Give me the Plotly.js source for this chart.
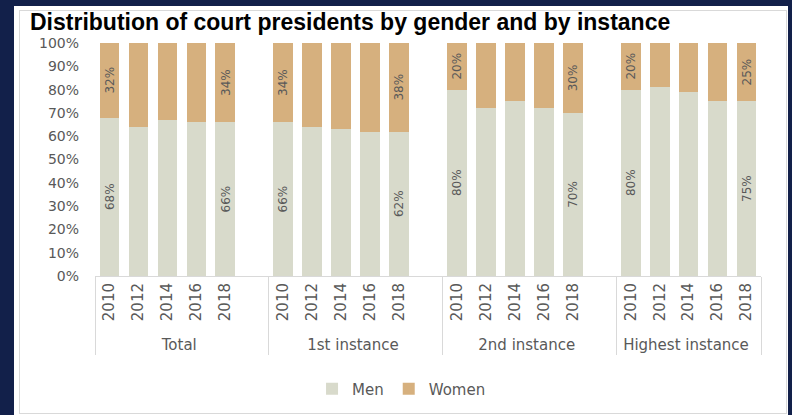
<!DOCTYPE html>
<html>
<head>
<meta charset="utf-8">
<script src="https://cdn.plot.ly/plotly-3.0.1.min.js"></script>
<style>
  html, body { margin:0; padding:0; width:792px; height:415px; overflow:hidden; background:#12204a; }
  #panel { position:absolute; left:14px; top:6px; width:774px; height:409px; background:#ffffff; }
  #frame { position:absolute; left:19px; top:10px; width:766px; height:402px; border:1px solid #d9d9d9; }
  #chart { position:absolute; left:0; top:0; width:792px; height:415px; }
</style>
</head>
<body>
<div id="panel"></div>
<div id="frame"></div>
<div id="chart"></div>
<script>
const groups = ['Total', '1st instance', '2nd instance', 'Highest instance'];
const years = ['2010', '2012', '2014', '2016', '2018'];
const menValues = [
  [68, 64, 67, 66, 66],
  [66, 64, 63, 62, 62],
  [80, 72, 75, 72, 70],
  [80, 81, 79, 75, 75]
];
const womenValues = [
  [32, 36, 33, 34, 34],
  [34, 36, 37, 38, 38],
  [20, 28, 25, 28, 30],
  [20, 19, 21, 25, 25]
];
const labelYears = ['2010', '2018'];

const xGroup = [], xYear = [], men = [], women = [], menText = [], womenText = [];
groups.forEach((g, gi) => {
  years.forEach((yr, yi) => {
    xGroup.push(g); xYear.push(yr);
    men.push(menValues[gi][yi]); women.push(womenValues[gi][yi]);
    const show = labelYears.includes(yr);
    menText.push(show ? menValues[gi][yi] + '%' : '');
    womenText.push(show ? womenValues[gi][yi] + '%' : '');
  });
  if (gi < groups.length - 1) {
    // empty spacer slot at the end of each group
    xGroup.push(g); xYear.push(' '.repeat(gi + 1));
    men.push(null); women.push(null); menText.push(''); womenText.push('');
  }
});

const font = 'DejaVu Sans, sans-serif';
const common = {
  type: 'bar',
  x: [xGroup, xYear],
  textposition: 'inside',
  insidetextanchor: 'middle',
  textangle: -90,
  textfont: { family: font, size: 14, color: '#595959' },
  hoverinfo: 'skip',
  width: 0.68
};
const data = [
  Object.assign({}, common, { name: 'Men', y: men, text: menText, marker: { color: '#d8dacb' } }),
  Object.assign({}, common, { name: 'Women', y: women, text: womenText, marker: { color: '#d6b07e' } })
];

const layout = {
  width: 792, height: 415,
  paper_bgcolor: 'rgba(0,0,0,0)', plot_bgcolor: 'rgba(0,0,0,0)',
  margin: { l: 94.5, r: 30.5, t: 43, b: 138.5 },
  barmode: 'stack',
  title: {
    text: '<b>Distribution of court presidents by gender and by instance</b>',
    font: { family: 'Liberation Sans, Arial, sans-serif', size: 23, color: '#000000' },
    xref: 'container', x: 30 / 792, xanchor: 'left',
    yref: 'container', y: 1 - 14 / 415, yanchor: 'top'
  },
  xaxis: {
    type: 'multicategory',
    tickangle: -90,
    tickfont: { family: font, size: 15, color: '#595959' },
    showline: true, linecolor: '#d9d9d9', linewidth: 1,
    showdividers: true, dividercolor: '#d9d9d9', dividerwidth: 1,
    ticks: '', showgrid: false, zeroline: false
  },
  yaxis: {
    range: [0, 100],
    tickmode: 'linear', tick0: 0, dtick: 10,
    ticksuffix: '%',
    tickfont: { family: font, size: 14, color: '#595959' },
    showgrid: false, zeroline: false, showline: false, ticks: '',
    ticklabelstandoff: 15
  },
  showlegend: true,
  legend: {
    orientation: 'h',
    xref: 'container', yref: 'container',
    x: 0.507, xanchor: 'center', y: 1 - 389 / 415, yanchor: 'middle',
    font: { family: font, size: 15, color: '#595959' },
    itemwidth: 30, traceorder: 'normal', bgcolor: 'rgba(0,0,0,0)'
  }
};

Plotly.newPlot('chart', data, layout, { displayModeBar: false, staticPlot: true });
</script>
</body>
</html>
